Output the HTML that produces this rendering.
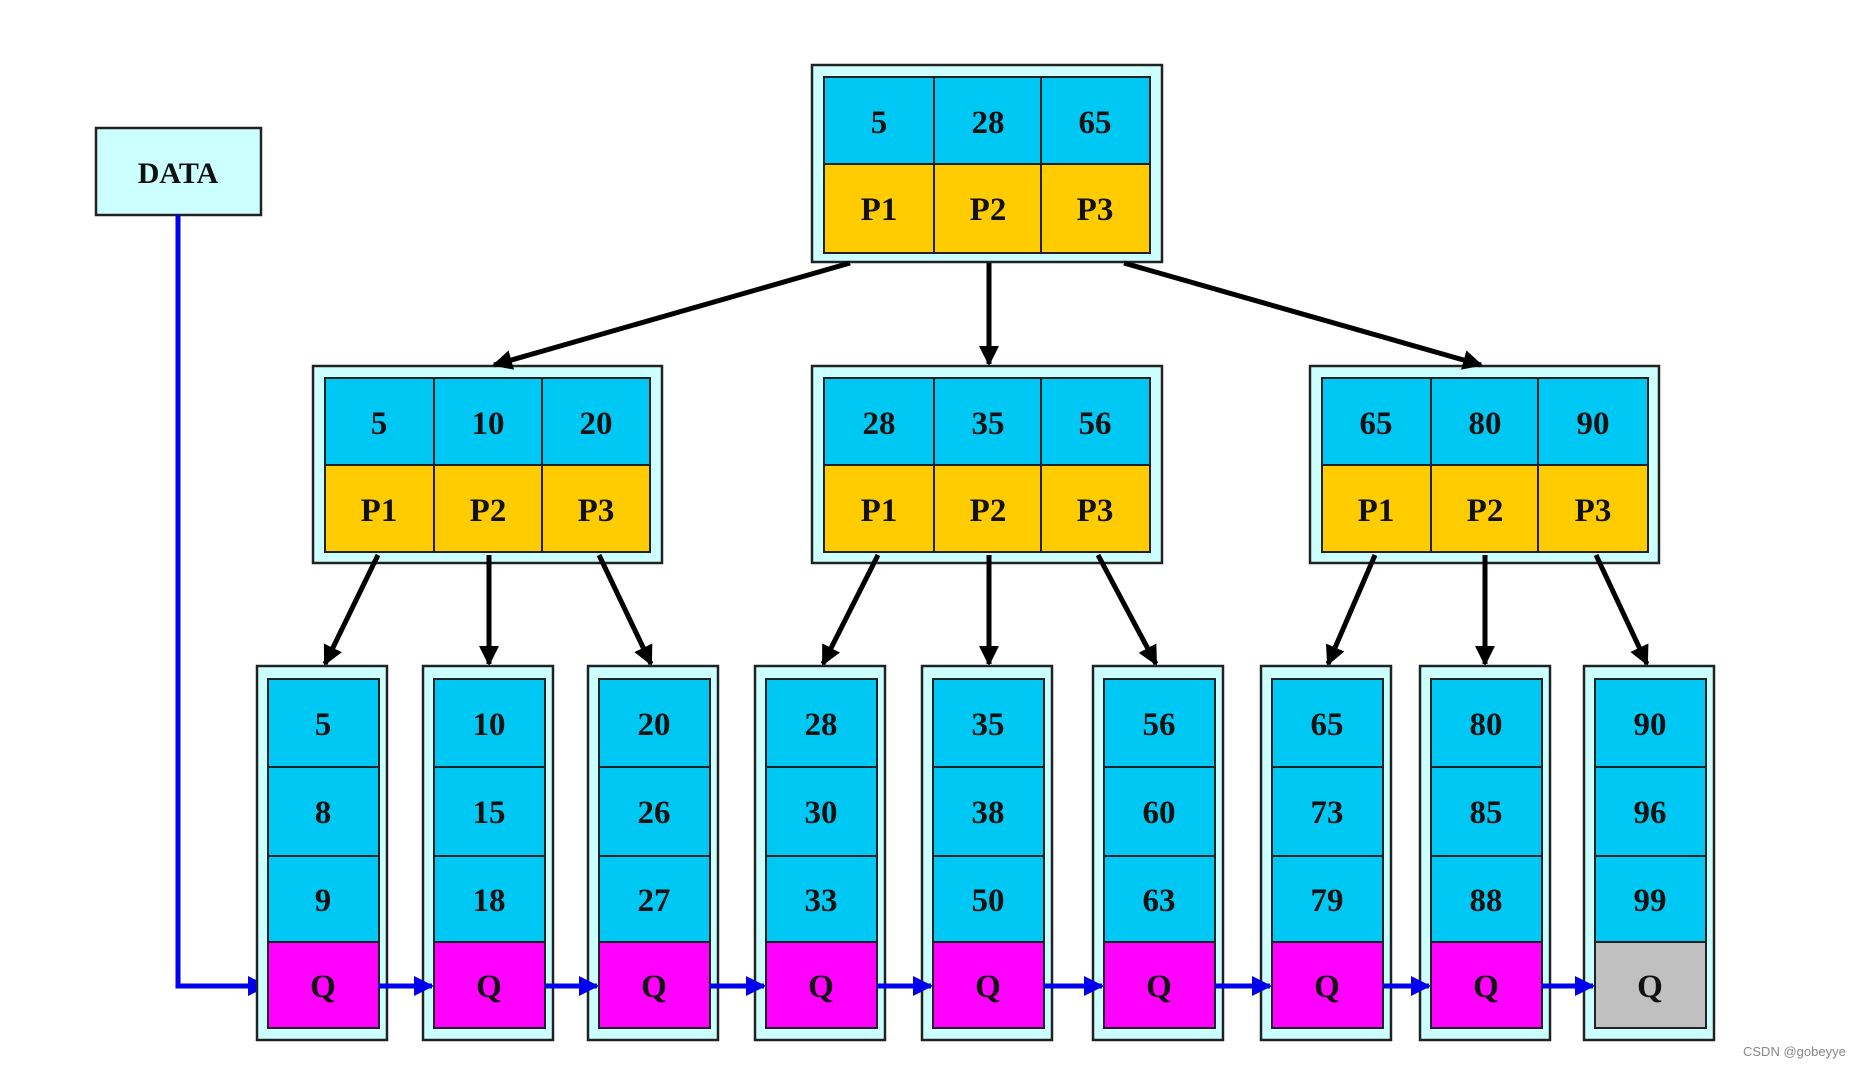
<!DOCTYPE html>
<html><head><meta charset="utf-8"><style>
html,body{margin:0;padding:0;background:#fff;}
svg{display:block;}
text{font-family:"Liberation Serif",serif;font-weight:bold;font-size:33px;fill:#111;text-anchor:middle;}
.w{font-family:"Liberation Sans",sans-serif;font-weight:normal;font-size:13px;fill:#888;text-anchor:start;}
.o{fill:#ccffff;stroke:#222;stroke-width:2.5;}
.c{fill:#00c8f5;stroke:#222;stroke-width:2;}
.y{fill:#ffcc00;stroke:#222;stroke-width:2;}
.m{fill:#ff00ff;stroke:#222;stroke-width:2;}
.g{fill:#c0c0c0;stroke:#222;stroke-width:2;}
.a{stroke:#000;stroke-width:5;fill:none;}
.b{stroke:#0000ee;stroke-width:5;fill:none;}
</style></head><body>
<svg width="1851" height="1068" viewBox="0 0 1851 1068" xmlns="http://www.w3.org/2000/svg">
<defs>
<marker id="ah" viewBox="0 0 10 10" refX="9" refY="5" markerWidth="4" markerHeight="4" orient="auto" markerUnits="strokeWidth"><path d="M0,0 L10,5 L0,10 z" fill="#000"/></marker>
<marker id="bh" viewBox="0 0 10 10" refX="9" refY="5" markerWidth="4" markerHeight="4" orient="auto" markerUnits="strokeWidth"><path d="M0,0 L10,5 L0,10 z" fill="#0000ee"/></marker>
</defs>

<!-- DATA -->
<rect x="96" y="128" width="165" height="87" fill="#ccffff" stroke="#222" stroke-width="2.5"/>
<text x="178" y="183" style="font-size:30px">DATA</text>
<polyline class="b" points="178,215 178,986 266,986" marker-end="url(#bh)"/>

<!-- root -->
<rect class="o" x="812" y="65" width="350" height="197"/>
<rect class="c" x="824" y="77" width="110" height="87"/><rect class="c" x="934" y="77" width="107" height="87"/><rect class="c" x="1041" y="77" width="109" height="87"/>
<rect class="y" x="824" y="164" width="110" height="89"/><rect class="y" x="934" y="164" width="107" height="89"/><rect class="y" x="1041" y="164" width="109" height="89"/>
<text x="879" y="133">5</text><text x="988" y="133">28</text><text x="1095" y="133">65</text>
<text x="879" y="220">P1</text><text x="988" y="220">P2</text><text x="1095" y="220">P3</text>

<!-- level 2 -->
<rect class="o" x="313" y="366" width="349" height="197"/>
<rect class="c" x="325" y="378" width="109" height="87"/><rect class="c" x="434" y="378" width="108" height="87"/><rect class="c" x="542" y="378" width="108" height="87"/>
<rect class="y" x="325" y="465" width="109" height="87"/><rect class="y" x="434" y="465" width="108" height="87"/><rect class="y" x="542" y="465" width="108" height="87"/>
<text x="379" y="434">5</text><text x="488" y="434">10</text><text x="596" y="434">20</text>
<text x="379" y="521">P1</text><text x="488" y="521">P2</text><text x="596" y="521">P3</text>

<rect class="o" x="812" y="366" width="350" height="197"/>
<rect class="c" x="824" y="378" width="110" height="87"/><rect class="c" x="934" y="378" width="107" height="87"/><rect class="c" x="1041" y="378" width="109" height="87"/>
<rect class="y" x="824" y="465" width="110" height="87"/><rect class="y" x="934" y="465" width="107" height="87"/><rect class="y" x="1041" y="465" width="109" height="87"/>
<text x="879" y="434">28</text><text x="988" y="434">35</text><text x="1095" y="434">56</text>
<text x="879" y="521">P1</text><text x="988" y="521">P2</text><text x="1095" y="521">P3</text>

<rect class="o" x="1310" y="366" width="349" height="197"/>
<rect class="c" x="1322" y="378" width="109" height="87"/><rect class="c" x="1431" y="378" width="107" height="87"/><rect class="c" x="1538" y="378" width="110" height="87"/>
<rect class="y" x="1322" y="465" width="109" height="87"/><rect class="y" x="1431" y="465" width="107" height="87"/><rect class="y" x="1538" y="465" width="110" height="87"/>
<text x="1376" y="434">65</text><text x="1485" y="434">80</text><text x="1593" y="434">90</text>
<text x="1376" y="521">P1</text><text x="1485" y="521">P2</text><text x="1593" y="521">P3</text>

<!-- arrows root->level2 -->
<line class="a" x1="850" y1="263" x2="494" y2="365" marker-end="url(#ah)"/>
<line class="a" x1="989" y1="263" x2="989" y2="364" marker-end="url(#ah)"/>
<line class="a" x1="1124" y1="263" x2="1481" y2="365" marker-end="url(#ah)"/>

<!-- arrows level2->leaves -->
<line class="a" x1="378" y1="555" x2="325" y2="664" marker-end="url(#ah)"/>
<line class="a" x1="489" y1="555" x2="489" y2="664" marker-end="url(#ah)"/>
<line class="a" x1="599" y1="555" x2="651" y2="664" marker-end="url(#ah)"/>
<line class="a" x1="878" y1="555" x2="823" y2="664" marker-end="url(#ah)"/>
<line class="a" x1="989" y1="555" x2="989" y2="664" marker-end="url(#ah)"/>
<line class="a" x1="1098" y1="555" x2="1156" y2="664" marker-end="url(#ah)"/>
<line class="a" x1="1375" y1="555" x2="1328" y2="664" marker-end="url(#ah)"/>
<line class="a" x1="1485" y1="555" x2="1485" y2="664" marker-end="url(#ah)"/>
<line class="a" x1="1596" y1="555" x2="1647" y2="664" marker-end="url(#ah)"/>

<!-- leaves -->
<g transform="translate(257,0)"><rect class="o" x="0" y="666" width="130" height="374"/><rect class="c" x="11" y="679" width="111" height="88"/><rect class="c" x="11" y="767" width="111" height="89"/><rect class="c" x="11" y="856" width="111" height="86"/><rect class="m" x="11" y="942" width="111" height="86"/><text x="66" y="735">5</text><text x="66" y="823">8</text><text x="66" y="911">9</text><text x="66" y="997">Q</text></g>
<g transform="translate(423,0)"><rect class="o" x="0" y="666" width="130" height="374"/><rect class="c" x="11" y="679" width="111" height="88"/><rect class="c" x="11" y="767" width="111" height="89"/><rect class="c" x="11" y="856" width="111" height="86"/><rect class="m" x="11" y="942" width="111" height="86"/><text x="66" y="735">10</text><text x="66" y="823">15</text><text x="66" y="911">18</text><text x="66" y="997">Q</text></g>
<g transform="translate(588,0)"><rect class="o" x="0" y="666" width="130" height="374"/><rect class="c" x="11" y="679" width="111" height="88"/><rect class="c" x="11" y="767" width="111" height="89"/><rect class="c" x="11" y="856" width="111" height="86"/><rect class="m" x="11" y="942" width="111" height="86"/><text x="66" y="735">20</text><text x="66" y="823">26</text><text x="66" y="911">27</text><text x="66" y="997">Q</text></g>
<g transform="translate(755,0)"><rect class="o" x="0" y="666" width="130" height="374"/><rect class="c" x="11" y="679" width="111" height="88"/><rect class="c" x="11" y="767" width="111" height="89"/><rect class="c" x="11" y="856" width="111" height="86"/><rect class="m" x="11" y="942" width="111" height="86"/><text x="66" y="735">28</text><text x="66" y="823">30</text><text x="66" y="911">33</text><text x="66" y="997">Q</text></g>
<g transform="translate(922,0)"><rect class="o" x="0" y="666" width="130" height="374"/><rect class="c" x="11" y="679" width="111" height="88"/><rect class="c" x="11" y="767" width="111" height="89"/><rect class="c" x="11" y="856" width="111" height="86"/><rect class="m" x="11" y="942" width="111" height="86"/><text x="66" y="735">35</text><text x="66" y="823">38</text><text x="66" y="911">50</text><text x="66" y="997">Q</text></g>
<g transform="translate(1093,0)"><rect class="o" x="0" y="666" width="130" height="374"/><rect class="c" x="11" y="679" width="111" height="88"/><rect class="c" x="11" y="767" width="111" height="89"/><rect class="c" x="11" y="856" width="111" height="86"/><rect class="m" x="11" y="942" width="111" height="86"/><text x="66" y="735">56</text><text x="66" y="823">60</text><text x="66" y="911">63</text><text x="66" y="997">Q</text></g>
<g transform="translate(1261,0)"><rect class="o" x="0" y="666" width="130" height="374"/><rect class="c" x="11" y="679" width="111" height="88"/><rect class="c" x="11" y="767" width="111" height="89"/><rect class="c" x="11" y="856" width="111" height="86"/><rect class="m" x="11" y="942" width="111" height="86"/><text x="66" y="735">65</text><text x="66" y="823">73</text><text x="66" y="911">79</text><text x="66" y="997">Q</text></g>
<g transform="translate(1420,0)"><rect class="o" x="0" y="666" width="130" height="374"/><rect class="c" x="11" y="679" width="111" height="88"/><rect class="c" x="11" y="767" width="111" height="89"/><rect class="c" x="11" y="856" width="111" height="86"/><rect class="m" x="11" y="942" width="111" height="86"/><text x="66" y="735">80</text><text x="66" y="823">85</text><text x="66" y="911">88</text><text x="66" y="997">Q</text></g>
<g transform="translate(1584,0)"><rect class="o" x="0" y="666" width="130" height="374"/><rect class="c" x="11" y="679" width="111" height="88"/><rect class="c" x="11" y="767" width="111" height="89"/><rect class="c" x="11" y="856" width="111" height="86"/><rect class="g" x="11" y="942" width="111" height="86"/><text x="66" y="735">90</text><text x="66" y="823">96</text><text x="66" y="911">99</text><text x="66" y="997">Q</text></g>

<!-- blue links -->
<line class="b" x1="379" y1="986" x2="432" y2="986" marker-end="url(#bh)"/>
<line class="b" x1="545" y1="986" x2="597" y2="986" marker-end="url(#bh)"/>
<line class="b" x1="710" y1="986" x2="764" y2="986" marker-end="url(#bh)"/>
<line class="b" x1="877" y1="986" x2="931" y2="986" marker-end="url(#bh)"/>
<line class="b" x1="1044" y1="986" x2="1102" y2="986" marker-end="url(#bh)"/>
<line class="b" x1="1215" y1="986" x2="1270" y2="986" marker-end="url(#bh)"/>
<line class="b" x1="1383" y1="986" x2="1429" y2="986" marker-end="url(#bh)"/>
<line class="b" x1="1542" y1="986" x2="1593" y2="986" marker-end="url(#bh)"/>

<text class="w" x="1743" y="1056">CSDN @gobeyye</text>
</svg>
</body></html>
